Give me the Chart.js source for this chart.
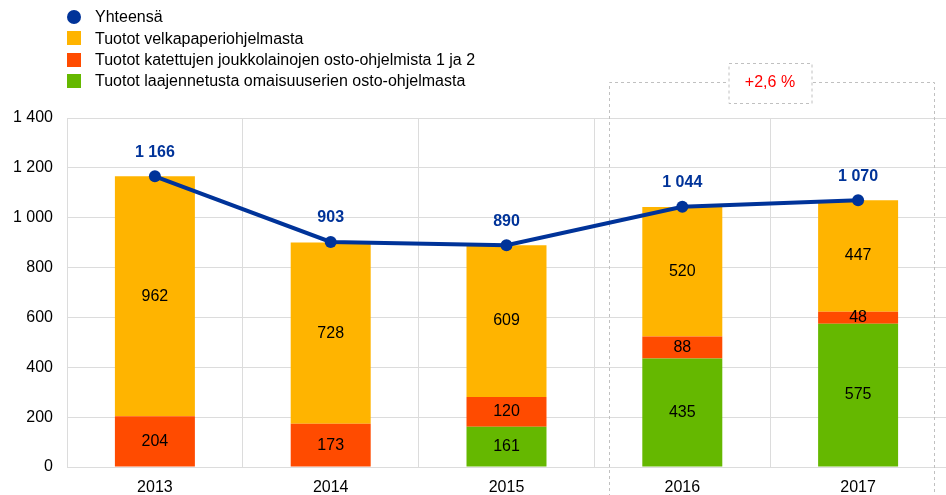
<!DOCTYPE html>
<html lang="fi">
<head>
<meta charset="UTF-8">
<title>Tuotot</title>
<script src="https://cdn.jsdelivr.net/npm/chart.js"></script>
<style>
  html, body { margin: 0; padding: 0; background: #fff; }
  #wrap { width: 946px; height: 495px; }
</style>
</head>
<body>
<div id="wrap"><canvas id="chart" width="946" height="495"></canvas></div>
<script>
const years = ['2013', '2014', '2015', '2016', '2017'];
const totals = [1166, 903, 890, 1044, 1070];
const debtProgramme = [962, 728, 609, 520, 447];
const coveredBonds = [204, 173, 120, 88, 48];
const assetPurchase = [0, 0, 161, 435, 575];
const yTicks = [0, 200, 400, 600, 800, 1000, 1200, 1400];
const changeLabel = '+2,6 %';

const NAVY = '#003399';
const ORANGE = '#FFB400';
const RED = '#FF4B00';
const GREEN = '#65B800';
const FONT = '"Liberation Sans", Arial, sans-serif';

function fmt(n) {
    return String(n).replace(/\B(?=(\d{3})+(?!\d))/g, ' ');
}

const legendItems = [
    { label: 'Yhteensä', color: NAVY, dot: true },
    { label: 'Tuotot velkapaperiohjelmasta', color: ORANGE },
    { label: 'Tuotot katettujen joukkolainojen osto-ohjelmista 1 ja 2', color: RED },
    { label: 'Tuotot laajennetusta omaisuuserien osto-ohjelmasta', color: GREEN }
];

// dashed box around 2016-2017 with the change label
const boxPlugin = {
    id: 'box',
    beforeDatasetsDraw(chart) {
        const ctx = chart.ctx, x = chart.scales.x, area = chart.chartArea;
        const c3 = x.getPixelForValue(3), c4 = x.getPixelForValue(4), c2 = x.getPixelForValue(2);
        const left = Math.round((c2 + c3) / 2 + 15);
        const right = Math.round(area.right - 12);
        const top = 82;
        const mid = Math.round((c3 + c4) / 2);
        ctx.save();
        ctx.strokeStyle = '#c0c0c0';
        ctx.lineWidth = 1;
        ctx.setLineDash([3, 3]);
        ctx.beginPath();
        ctx.moveTo(left + 0.5, chart.height + 2);
        ctx.lineTo(left + 0.5, top + 0.5);
        ctx.lineTo(right + 0.5, top + 0.5);
        ctx.lineTo(right + 0.5, chart.height + 2);
        ctx.stroke();
        // label box
        const bw = 83, bh = 40;
        ctx.fillStyle = '#fff';
        ctx.fillRect(mid - bw / 2, top - 19, bw, bh);
        ctx.strokeRect(mid - bw / 2 + 0.5, top - 19 + 0.5, bw, bh);
        ctx.setLineDash([]);
        ctx.fillStyle = '#FF0000';
        ctx.font = '16px ' + FONT;
        ctx.textAlign = 'center';
        ctx.textBaseline = 'middle';
        ctx.fillText(changeLabel, mid, top + 1);
        ctx.restore();
    }
};

const labelPlugin = {
    id: 'labels',
    afterDatasetsDraw(chart) {
        const ctx = chart.ctx;
        ctx.save();
        ctx.textAlign = 'center';
        ctx.textBaseline = 'middle';
        chart.data.datasets.forEach((ds, i) => {
            const meta = chart.getDatasetMeta(i);
            meta.data.forEach((el, j) => {
                const v = ds.data[j];
                if (ds.type === 'line') {
                    ctx.font = 'bold 16px ' + FONT;
                    ctx.fillStyle = NAVY;
                    ctx.fillText(fmt(v), el.x, el.y - 24);
                } else if (v > 0) {
                    ctx.font = '16px ' + FONT;
                    ctx.fillStyle = '#000';
                    ctx.fillText(fmt(v), el.x, (el.y + el.base) / 2);
                }
            });
        });
        // legend
        ctx.textAlign = 'left';
        ctx.font = '16px ' + FONT;
        legendItems.forEach((it, k) => {
            const y = 17 + k * 21.3;
            ctx.fillStyle = it.color;
            if (it.dot) {
                ctx.beginPath();
                ctx.arc(74, y, 7, 0, Math.PI * 2);
                ctx.fill();
            } else {
                ctx.fillRect(67, Math.round(y - 7), 14, 14);
            }
            ctx.fillStyle = '#000';
            ctx.fillText(it.label, 95, y + 1);
        });
        ctx.restore();
    }
};

new Chart(document.getElementById('chart'), {
    data: {
        labels: years,
        datasets: [
            {
                type: 'line',
                label: 'Yhteensä',
                data: totals,
                stack: 'total',
                borderColor: NAVY,
                backgroundColor: NAVY,
                borderWidth: 4,
                pointRadius: 6,
                pointBackgroundColor: NAVY,
                pointBorderWidth: 0,
                tension: 0,
                order: 0
            },
            {
                type: 'bar',
                label: 'Tuotot laajennetusta omaisuuserien osto-ohjelmasta',
                data: assetPurchase,
                backgroundColor: GREEN,
                stack: 'bars',
                order: 1
            },
            {
                type: 'bar',
                label: 'Tuotot katettujen joukkolainojen osto-ohjelmista 1 ja 2',
                data: coveredBonds,
                backgroundColor: RED,
                stack: 'bars',
                order: 1
            },
            {
                type: 'bar',
                label: 'Tuotot velkapaperiohjelmasta',
                data: debtProgramme,
                backgroundColor: ORANGE,
                stack: 'bars',
                order: 1
            }
        ]
    },
    options: {
        responsive: false,
        animation: false,
        layout: { autoPadding: false, padding: { top: 118, left: 0, right: 0, bottom: 0 } },
        datasets: {
            bar: { categoryPercentage: 1, barPercentage: 0.455 }
        },
        plugins: {
            legend: { display: false },
            tooltip: { enabled: false }
        },
        scales: {
            x: {
                stacked: true,
                afterFit(axis) { axis.height = 28; },
                grid: { color: '#dcdcdc', offset: true, drawTicks: false },
                border: { color: '#dcdcdc' },
                ticks: { color: '#000', font: { family: FONT, size: 16 }, padding: 11 }
            },
            y: {
                stacked: true,
                min: 0,
                max: 1400,
                afterBuildTicks(axis) { axis.ticks = yTicks.map(v => ({ value: v })); },
                afterFit(axis) { axis.width = 67; },
                grid: { color: '#dcdcdc', drawTicks: false },
                border: { color: '#dcdcdc' },
                ticks: { color: '#000', font: { family: FONT, size: 16 }, padding: 14, callback: v => fmt(v) }
            }
        }
    },
    plugins: [boxPlugin, labelPlugin]
});
</script>
</body>
</html>
